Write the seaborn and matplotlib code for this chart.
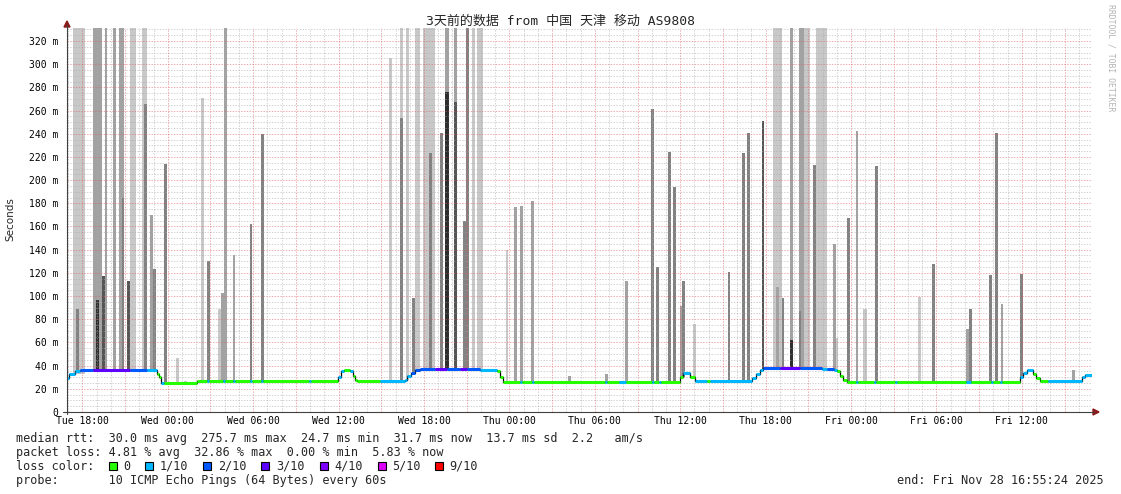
import numpy as np
import matplotlib
matplotlib.use("Agg")
import matplotlib.pyplot as plt
import seaborn as sns
from matplotlib.patches import Rectangle, Polygon
from matplotlib.lines import Line2D

W, H = 1121, 494

# time axis: hours counted from Tue 25 Nov 00:00, graph covers 3 days
t_begin, t_end = 16.923, 88.923
tick_hours = list(range(18, 85, 6))
tick_names = ["Tue 18:00", "Wed 00:00", "Wed 06:00", "Wed 12:00", "Wed 18:00",
              "Thu 00:00", "Thu 06:00", "Thu 12:00", "Thu 18:00", "Fri 00:00",
              "Fri 06:00", "Fri 12:00"]
y_ticks = list(range(0, 321, 20))
y_names = ["0"] + [f"{v} m" for v in y_ticks[1:]]

# median rtt (ms) as steps: start hour, value, lost pings out of 10
seg_start = [16.92, 17.06, 17.49, 17.84, 18.75, 21.35, 22.54, 23.25, 23.39, 23.53,
             23.74, 26.06, 26.76, 26.90, 27.88, 28.02, 28.58, 28.72, 29.78, 29.92,
             30.55, 30.69, 33.90, 34.04, 35.96, 36.17, 36.38, 36.80, 37.01, 37.15,
             37.29, 38.91, 40.67, 40.81, 41.09, 41.37, 41.72, 42.77, 43.62, 44.53,
             45.00, 45.93, 47.13, 47.34, 47.55, 48.74, 48.88, 49.60, 49.74, 54.70,
             54.84, 55.70, 56.20, 58.00, 58.14, 58.50, 58.64, 59.98, 60.19, 60.69,
             61.04, 61.90, 62.10, 65.04, 65.32, 65.60, 65.81, 67.01, 68.41, 69.96,
             70.30, 70.80, 71.01, 71.22, 71.43, 71.71, 72.35, 72.49, 73.60, 73.74,
             75.10, 75.24, 75.93, 76.28, 80.10, 80.45, 81.80, 81.94, 82.45, 82.59,
             83.87, 84.08, 84.36, 84.78, 84.99, 85.27, 85.83, 88.22, 88.43]
seg_ms = [29.0, 33.0, 35.5, 36.5, 36.5, 36.5, 36.0, 33.0, 30.0, 25.0,
          24.7, 26.5, 26.5, 26.5, 26.5, 26.5, 26.5, 26.5, 26.5, 26.5,
          26.5, 26.5, 26.5, 26.5, 30.0, 35.0, 36.0, 35.0, 31.0, 28.0,
          26.5, 27.0, 28.0, 31.0, 34.0, 36.0, 37.0, 37.0, 37.0, 37.0,
          37.0, 36.5, 35.0, 30.0, 26.2, 26.2, 26.2, 26.2, 26.2, 26.2,
          26.2, 26.2, 26.2, 26.2, 26.2, 26.2, 26.2, 30.0, 34.0, 30.0,
          26.5, 26.5, 26.5, 29.0, 33.0, 36.0, 37.7, 37.7, 37.7, 37.0,
          37.0, 36.5, 35.0, 31.0, 28.0, 26.2, 26.2, 26.2, 26.2, 26.2,
          26.2, 26.2, 25.5, 26.2, 26.2, 26.2, 26.2, 26.2, 26.2, 26.2,
          30.0, 34.0, 36.0, 33.0, 29.0, 26.5, 27.0, 30.0, 31.5]
seg_loss = [1, 1, 1, 2, 3, 2, 1, 0, 0, 1,
            0, 0, 1, 0, 1, 0, 1, 0, 1, 0,
            1, 0, 1, 0, 1, 1, 0, 1, 0, 0,
            0, 1, 1, 1, 2, 2, 2, 3, 2, 3,
            2, 1, 0, 0, 0, 1, 0, 1, 0, 1,
            0, 1, 0, 1, 0, 1, 0, 0, 1, 0,
            1, 0, 1, 1, 1, 1, 2, 3, 2, 1,
            2, 1, 0, 0, 0, 0, 1, 0, 1, 0,
            1, 0, 0, 0, 1, 0, 1, 0, 1, 0,
            1, 1, 1, 0, 0, 0, 1, 1, 1]

# smoke: start hour, duration (h), highest ping (ms), density level 0 (few) .. 4 (many)
smoke_t = [16.92, 17.34, 17.56, 18.75, 18.96, 19.38, 19.59, 20.15, 20.58, 20.79,
           21.14, 21.35, 22.19, 22.33, 22.75, 22.96, 23.74, 24.58, 25.14, 26.34,
           26.76, 27.53, 27.74, 27.95, 28.58, 29.78, 30.55, 39.54, 40.31, 40.31,
           40.74, 41.16, 41.37, 41.93, 42.35, 43.12, 43.48, 43.48, 44.11, 44.11,
           44.74, 44.95, 45.37, 45.72, 47.76, 48.32, 48.74, 49.52, 52.12, 54.72,
           56.12, 57.95, 58.30, 59.14, 59.49, 59.98, 60.12, 60.90, 63.35, 64.34,
           64.69, 65.74, 66.52, 66.73, 67.15, 67.71, 67.71, 68.34, 68.34, 68.69,
           69.33, 69.54, 70.73, 70.94, 71.71, 72.35, 72.84, 73.68, 76.70, 77.68,
           80.07, 80.28, 81.69, 82.11, 82.53, 83.87, 87.52]
smoke_dur = [0.10, 0.84, 0.21, 0.63, 0.21, 0.21, 0.14, 0.21, 0.35, 0.14,
             0.21, 0.42, 0.35, 0.21, 0.21, 0.21, 0.21, 0.21, 0.21, 0.21,
             0.21, 0.21, 0.21, 0.21, 0.14, 0.14, 0.21, 0.21, 0.21, 0.21,
             0.21, 0.21, 0.35, 0.84, 0.21, 0.21, 0.28, 0.28, 0.21, 0.21,
             0.21, 0.21, 0.21, 0.42, 0.14, 0.21, 0.21, 0.21, 0.21, 0.21,
             0.21, 0.21, 0.21, 0.21, 0.21, 0.14, 0.21, 0.21, 0.14, 0.21,
             0.21, 0.14, 0.63, 0.21, 0.14, 0.21, 0.21, 0.35, 0.14, 0.42,
             0.21, 0.77, 0.21, 0.14, 0.21, 0.14, 0.28, 0.21, 0.21, 0.21,
             0.21, 0.21, 0.21, 0.21, 0.14, 0.21, 0.21]
smoke_top = [140, 340, 89, 340, 97, 117, 340, 340, 340, 185,
             113, 340, 340, 266, 170, 123, 214, 47, 27, 271,
             130, 89, 103, 340, 135, 162, 240, 305, 340, 254,
             340, 98, 340, 340, 223, 241, 340, 276, 340, 267,
             165, 340, 340, 340, 140, 177, 178, 182, 31, 33,
             113, 261, 125, 224, 194, 91, 113, 76, 121, 223,
             241, 251, 340, 108, 98, 340, 62, 340, 87, 340,
             213, 340, 145, 64, 167, 242, 89, 212, 99, 128,
             72, 89, 118, 241, 93, 119, 36]
smoke_level = [2, 0, 2, 1, 4, 3, 1, 1, 1, 2,
               3, 0, 0, 2, 1, 2, 2, 0, 0, 0,
               2, 0, 1, 1, 1, 2, 2, 0, 0, 2,
               0, 2, 0, 0, 2, 2, 1, 4, 1, 3,
               2, 2, 0, 0, 0, 1, 1, 1, 1, 1,
               1, 2, 2, 2, 2, 1, 2, 0, 2, 2,
               2, 3, 0, 1, 2, 1, 4, 1, 2, 0,
               2, 0, 1, 0, 2, 1, 0, 2, 0, 2,
               1, 2, 2, 2, 1, 2, 1]

loss_keys = [0, 1, 2, 3, 4, 5, 9]
loss_names = ["0", "1/10", "2/10", "3/10", "4/10", "5/10", "9/10"]
loss_colors = {0: "#26ff00", 1: "#00b8ff", 2: "#0059ff", 3: "#5e00ff",
               4: "#7e00ff", 5: "#dd00ff", 9: "#ff0000"}
smoke_colors = ["#c8c8c8", "#a2a2a2", "#828282", "#555555", "#2e2e2e"]

sns.set_theme(style="white")
plt.rcParams["font.family"] = ["DejaVu Sans Mono", "Noto Sans CJK SC"]


def fx(x):
    return x / W


def fy(y):
    return 1 - y / H


fig = plt.figure(figsize=(W / 100, H / 100), dpi=100)
ax = fig.add_axes([fx(67), fy(412), (1092 - 67) / W, 384 / H])
ax.set_xlim(t_begin, t_end)
ax.set_ylim(0, 331.2)
for s in ax.spines.values():
    s.set_visible(False)

# smoke columns, lighter first
seg_start_a = np.array(seg_start)
order = np.argsort(smoke_level, kind="stable")
for i in order:
    k = np.searchsorted(seg_start_a, smoke_t[i], side="right") - 1
    base = seg_ms[max(k, 0)]
    ax.bar(smoke_t[i], smoke_top[i] - base, width=smoke_dur[i], bottom=base,
           align="edge", color=smoke_colors[smoke_level[i]], linewidth=0, zorder=1)

# dotted grid on top of the smoke (half transparent like rrdtool)
dots = (0, (1.4, 1.4))
red_grid, grey_grid = "#e65a5a", "#a8a8a8"
for v in np.arange(5, 331, 5):
    c = red_grid if v % 20 == 0 else grey_grid
    ax.axhline(v, color=c, lw=0.72, ls=dots, alpha=0.5, zorder=2)
for h in range(17, 89):
    c = red_grid if h % 3 == 0 else grey_grid
    ax.axvline(h, color=c, lw=0.72, ls=dots, alpha=0.5, zorder=2)

# median line: black steps plus loss-coloured pieces
xs = seg_start + [t_end]
ys = seg_ms + [seg_ms[-1]]
sns.lineplot(x=xs, y=ys, drawstyle="steps-post", color="black", linewidth=0.9,
             estimator=None, sort=False, ax=ax, zorder=3)
seg_stop = seg_start[1:] + [t_end]
ax.hlines(seg_ms, seg_start, seg_stop, colors=[loss_colors[l] for l in seg_loss],
          linewidth=2.2, zorder=4)

ax.set_xticks(tick_hours, tick_names)
ax.set_yticks(y_ticks, y_names)
ax.set_yticks(np.arange(0, 331, 5), minor=True)
ax.tick_params(axis="x", length=0, pad=3, labelsize=7, colors="black")
ax.tick_params(axis="y", which="both", length=2, width=0.6, color="#404040",
               pad=4, labelsize=7, labelcolor="black")
ax.set_xlabel("")
ax.set_ylabel("")

# axes with arrow heads
fig.add_artist(Line2D([fx(67), fx(67)], [fy(414), fy(25)], color="#404040", lw=0.8))
fig.add_artist(Line2D([fx(63), fx(1094)], [fy(412), fy(412)], color="#404040", lw=0.8))
fig.add_artist(Polygon([(fx(64), fy(27)), (fx(70), fy(27)), (fx(67), fy(21))],
                       closed=True, color="#8b1a1a", transform=fig.transFigure))
fig.add_artist(Polygon([(fx(1093), fy(409)), (fx(1093), fy(415)), (fx(1099), fy(412))],
                       closed=True, color="#8b1a1a", transform=fig.transFigure))

fig.text(0.5, fy(21), "3天前的数据 from 中国 天津 移动 AS9808", ha="center",
         va="center", fontsize=9.4)
fig.text(fx(10), fy(219), "Seconds", rotation=90, ha="center", va="center",
         fontsize=7.5, family="DejaVu Sans")
fig.text(fx(1111), fy(4), "RRDTOOL / TOBI OETIKER", rotation=270, ha="center",
         va="top", fontsize=5.9, color="#b4b4b4")

# legend block under the graph
fs = 8.5
fig.text(fx(16), fy(438), "median rtt:  30.0 ms avg  275.7 ms max  24.7 ms min  "
         "31.7 ms now  13.7 ms sd  2.2   am/s", va="center", fontsize=fs)
fig.text(fx(16), fy(452), "packet loss: 4.81 % avg  32.86 % max  0.00 % min  5.83 % now",
         va="center", fontsize=fs)
fig.text(fx(16), fy(466), "loss color:", va="center", fontsize=fs)
sq_left = [108.6, 145.2, 203.3, 261.4, 319.9, 377.6, 435.2]
for x, key, name in zip(sq_left, loss_keys, loss_names):
    fig.add_artist(Rectangle((fx(x), fy(470)), 8 / W, 8 / H, transform=fig.transFigure,
                             facecolor=loss_colors[key], edgecolor="black", lw=0.8))
    fig.text(fx(x + 14.5), fy(466), name, va="center", fontsize=fs)
fig.text(fx(16), fy(480), "probe:       10 ICMP Echo Pings (64 Bytes) every 60s",
         va="center", fontsize=fs)
fig.text(fx(1104), fy(480), "end: Fri Nov 28 16:55:24 2025", ha="right",
         va="center", fontsize=fs)

fig.savefig("out.png", dpi=100)
